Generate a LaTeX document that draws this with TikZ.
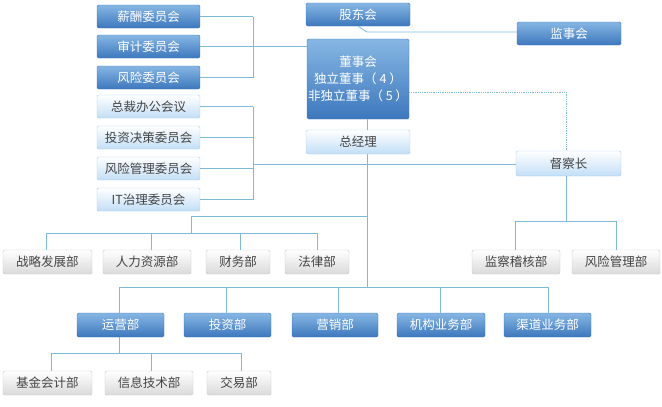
\documentclass[tikz,border=0pt]{standalone}
\usepackage{fontspec}
\setmainfont{Noto Sans CJK SC}
\begin{document}
\begin{tikzpicture}[x=1pt,y=-1pt,
 bx/.style={rounded corners=1.5pt,minimum height=23pt,inner sep=0pt,font=\fontsize{12.5}{14}\selectfont},
 blue/.style={bx,top color=blue1,bottom color=blue2,draw=blue2,text=white},
 light/.style={bx,top color=white,bottom color=lb,draw=lbd,text=gray1},
 grey/.style={bx,top color=white,bottom color=g2,draw=gd,text=gray1},
 ln/.style={draw=lc,line width=0.8pt}]
\definecolor{blue1}{HTML}{86B6E3}\definecolor{blue2}{HTML}{3D78BD}
\definecolor{lb}{HTML}{C2DEF6}\definecolor{lbd}{HTML}{A8CCEA}
\definecolor{g2}{HTML}{DADADA}\definecolor{gd}{HTML}{C6C6C6}
\definecolor{gray1}{HTML}{444444}\definecolor{lc}{HTML}{7DBAD8}
\useasboundingbox (0,0) rectangle (662,407);
\def\B#1#2#3#4#5#6{\node[#1,minimum width=#4-#3 pt,minimum height=#6-#5 pt] (#2) at ({(#3+#4)/2},{(#5+#6)/2})}
\B{blue}{xc}{97}{200}{5}{28}{薪酬委员会};
\B{blue}{sj}{97}{200}{35}{58}{审计委员会};
\B{blue}{fx}{97}{200}{66}{89}{风险委员会};
\B{light}{zc}{97}{200}{95}{118}{总裁办公会议};
\B{light}{tz}{97}{200}{126}{149}{投资决策委员会};
\B{light}{fg}{97}{200}{157}{180}{风险管理委员会};
\B{light}{it}{97}{200}{188}{211}{IT治理委员会};
\B{blue}{gd}{306}{410}{3}{26}{股东会};
\B{blue}{ds}{307}{409}{39}{119}{\parbox{100pt}{\centering 董事会\\[3pt]独立董事（ 4 ）\\[3pt]非独立董事（ 5 ）}};
\B{light}{zj}{306}{410}{130}{154}{总经理};
\B{blue}{js}{517}{621}{22}{45}{监事会};
\B{light}{dc}{516}{621}{151}{176}{督察长};
\B{grey}{zl}{3}{92}{250}{274}{战略发展部};
\B{grey}{rl}{103}{191}{250}{274}{人力资源部};
\B{grey}{cw}{206}{270}{250}{274}{财务部};
\B{grey}{fl}{285}{349}{250}{274}{法律部};
\B{grey}{jc}{472}{560}{250}{274}{监察稽核部};
\B{grey}{fgb}{572}{660}{250}{274}{风险管理部};
\B{blue}{yy}{77}{164}{313}{337}{运营部};
\B{blue}{tzb}{184}{271}{313}{337}{投资部};
\B{blue}{yx}{292}{378}{313}{337}{营销部};
\B{blue}{jg}{397}{485}{313}{337}{机构业务部};
\B{blue}{qd}{504}{591}{313}{337}{渠道业务部};
\B{grey}{jj}{3}{92}{371}{395}{基金会计部};
\B{grey}{xx}{105}{193}{371}{395}{信息技术部};
\B{grey}{jy}{207}{271}{371}{395}{交易部};
% committees
\foreach \n in {xc,sj,fx,zc,tz,fg,it} \draw[ln] (\n.east) -- ++(53,0);
\draw[ln] (253,16.5) -- (253,77.5);
\draw[ln] (253,106.5) -- (253,199.5);
\draw[ln] (253,46.5) -- (ds.west|-253,46.5);
\draw[ln] (253,164) -- (dc.west|-253,164);
\draw[ln] (gd.south) -- (367,32) -- (js.west|-367,32);
\draw[ln] (ds.south-|367,0) -- (zj.north-|367,0);
\draw[ln,densely dotted] (ds.east|-0,92) -- (566,92) -- (dc.north-|566,0);
\draw[ln] (zj.south-|367,0) -- (367,287);
\draw[ln] (367,216) -- (191,216) -- (191,233);
\draw[ln] (46,233) -- (317,233);
\foreach \n/\x in {zl/46,rl/151,cw/240,fl/317} \draw[ln] (\x,233) -- (\n.north-|\x,0);
\draw[ln] (dc.south-|566,0) -- (566,221);
\draw[ln] (515,221) -- (616,221);
\foreach \n/\x in {jc/515,fgb/616} \draw[ln] (\x,221) -- (\n.north-|\x,0);
\draw[ln] (119,287) -- (548,287);
\foreach \n/\x in {yy/119,tzb/226,yx/338,jg/440,qd/548} \draw[ln] (\x,287) -- (\n.north-|\x,0);
\draw[ln] (yy.south-|119,0) -- (119,353);
\draw[ln] (51,353) -- (241,353);
\foreach \n/\x in {jj/51,xx/151,jy/241} \draw[ln] (\x,353) -- (\n.north-|\x,0);
\end{tikzpicture}
\end{document}
